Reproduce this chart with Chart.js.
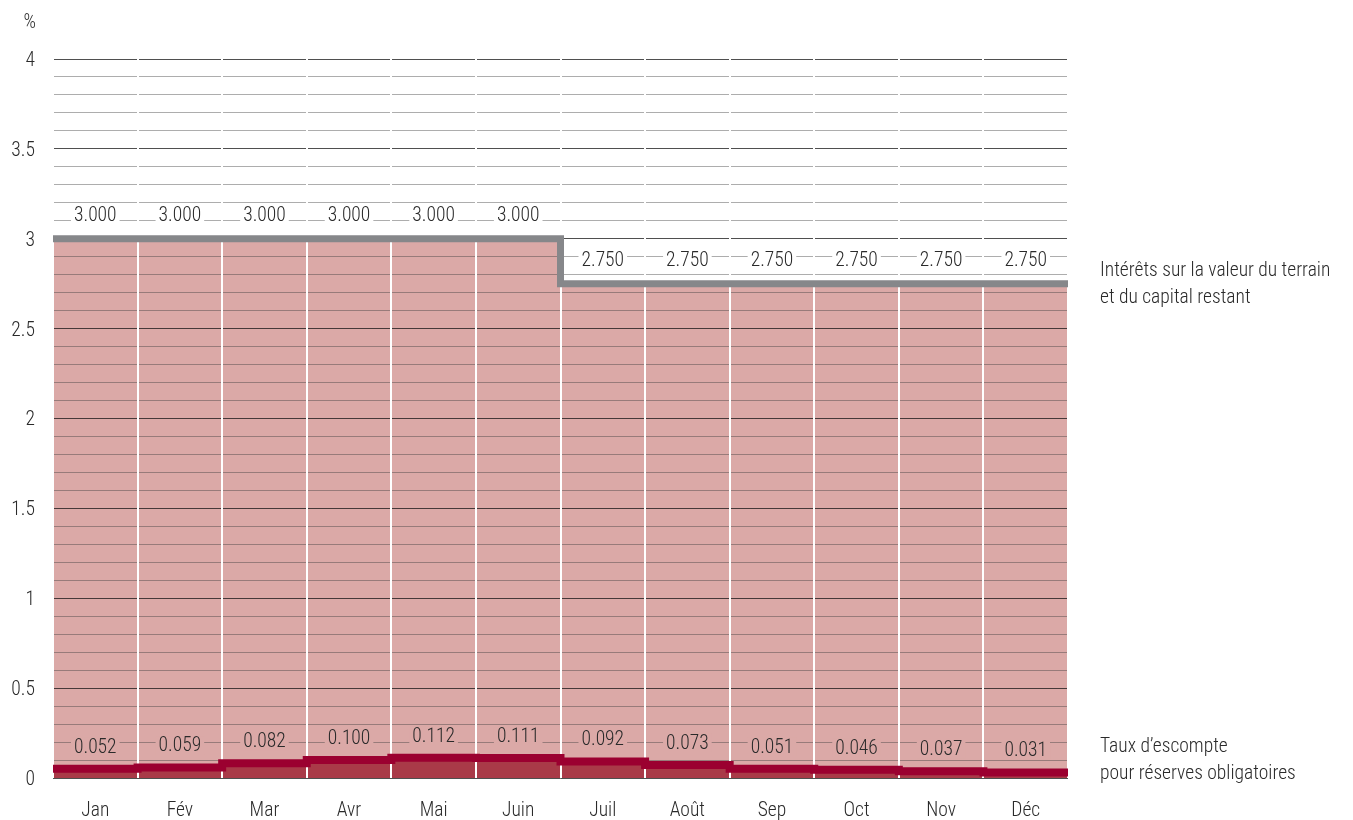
<!DOCTYPE html>
<html>
<head>
<meta charset="utf-8">
<script src="https://cdn.jsdelivr.net/npm/chart.js@4.4.1/dist/chart.umd.min.js"></script>
<style>
  html, body { margin: 0; padding: 0; background: #fff; }
  #wrap { width: 1353px; height: 820px; }
</style>
</head>
<body>
<div id="wrap"><canvas id="chart"></canvas></div>
<script>
const months = ['Jan', 'Fév', 'Mar', 'Avr', 'Mai', 'Juin', 'Juil', 'Août', 'Sep', 'Oct', 'Nov', 'Déc'];
const landRate = [3.000, 3.000, 3.000, 3.000, 3.000, 3.000, 2.750, 2.750, 2.750, 2.750, 2.750, 2.750];
const discountRate = [0.052, 0.059, 0.082, 0.100, 0.112, 0.111, 0.092, 0.073, 0.051, 0.046, 0.037, 0.031];
const landLabel = ['Intérêts sur la valeur du terrain', 'et du capital restant'];
const discountLabel = ['Taux d’escompte', 'pour réserves obligatoires'];

const FONT = '"Roboto Condensed", Roboto, sans-serif';
const SIZE = 19.5;
const WEIGHT = 300;
const TEXT = '#2a2a2a';
const PINK = '#dba9a7';

// one point per month boundary so the steps span whole month bands
function stepPoints(values) {
    const pts = values.map((v, i) => ({ x: i, y: v }));
    pts.push({ x: values.length, y: values[values.length - 1] });
    return pts;
}

// value labels above each month step, with a patch behind them that cuts the grid lines
const valueLabels = {
    id: 'valueLabels',
    afterDatasetsDraw(chart) {
        const ctx = chart.ctx;
        const xs = chart.scales.xl;
        const ys = chart.scales.y;
        const sets = [
            { values: landRate, lift: 24, bg: '#ffffff' },
            { values: discountRate, lift: 22, bg: PINK }
        ];
        ctx.save();
        ctx.font = WEIGHT + ' ' + SIZE + 'px ' + FONT;
        ctx.textAlign = 'center';
        ctx.textBaseline = 'middle';
        sets.forEach(s => {
            s.values.forEach((v, i) => {
                const x = xs.getPixelForValue(i + 0.5);
                const y = ys.getPixelForValue(v) - s.lift;
                const txt = v.toFixed(3);
                const w = ctx.measureText(txt).width + 6;
                ctx.fillStyle = s.bg;
                ctx.fillRect(x - w / 2, y - 9, w, 18);
                ctx.fillStyle = TEXT;
                ctx.fillText(txt, x, y + 1);
            });
        });
        ctx.restore();
    },
    afterDraw(chart) {
        const ctx = chart.ctx;
        const ys = chart.scales.y;
        const area = chart.chartArea;
        ctx.save();
        ctx.font = WEIGHT + ' ' + SIZE + 'px ' + FONT;
        ctx.fillStyle = TEXT;
        ctx.textBaseline = 'middle';
        ctx.textAlign = 'right';
        ctx.fillText('%', 36, 23);
        ctx.textAlign = 'left';
        const tx = area.right + 32;
        const drawBlock = (lines, y0) => {
            lines.forEach((l, k) => ctx.fillText(l, tx, y0 + k * 27));
        };
        drawBlock(landLabel, ys.getPixelForValue(landRate[11]) - 13);
        drawBlock(discountLabel, ys.getPixelForValue(discountRate[11]) - 25);
        ctx.restore();
    }
};

new Chart(document.getElementById('chart'), {
    type: 'line',
    data: {
        labels: months,
        datasets: [
            {
                label: discountLabel.join(' '),
                data: stepPoints(discountRate),
                xAxisID: 'xl',
                stepped: 'before',
                borderColor: '#9b0030',
                borderWidth: 8,
                backgroundColor: '#a93a48',
                fill: 'origin',
                pointRadius: 0
            },
            {
                label: landLabel.join(' '),
                data: stepPoints(landRate),
                xAxisID: 'xl',
                stepped: 'before',
                borderColor: '#86878a',
                borderWidth: 7,
                backgroundColor: PINK,
                fill: 'origin',
                pointRadius: 0
            }
        ]
    },
    options: {
        responsive: true,
        maintainAspectRatio: false,
        animation: false,
        layout: { padding: { top: 59, right: 285, left: 0, bottom: 0 } },
        plugins: {
            legend: { display: false },
            tooltip: { enabled: false },
            filler: { drawTime: 'beforeDraw' }
        },
        scales: {
            y: {
                min: 0,
                max: 4,
                afterFit: s => { s.width = 53; },
                border: { display: false },
                grid: {
                    z: -1,
                    drawTicks: false,
                    lineWidth: 1,
                    color: c => (Math.round(c.tick.value * 10) % 5 === 0 ? 'rgba(20,20,20,0.75)' : 'rgba(60,60,60,0.42)')
                },
                ticks: {
                    stepSize: 0.1,
                    autoSkip: false,
                    padding: 18,
                    labelOffset: 2,
                    color: TEXT,
                    font: { family: FONT, size: SIZE, weight: WEIGHT },
                    callback: v => (Math.round(v * 10) % 5 === 0 ? String(+v.toFixed(1)) : '')
                }
            },
            x: {
                type: 'category',
                offset: true,
                afterFit: s => { s.height = 42; },
                border: { display: false },
                grid: { offset: true, drawTicks: false, color: '#ffffff', lineWidth: 2 },
                ticks: {
                    padding: 21,
                    color: TEXT,
                    font: { family: FONT, size: SIZE, weight: WEIGHT }
                }
            },
            xl: { type: 'linear', display: false, min: 0, max: 12 }
        }
    },
    plugins: [valueLabels]
});
</script>
</body>
</html>
